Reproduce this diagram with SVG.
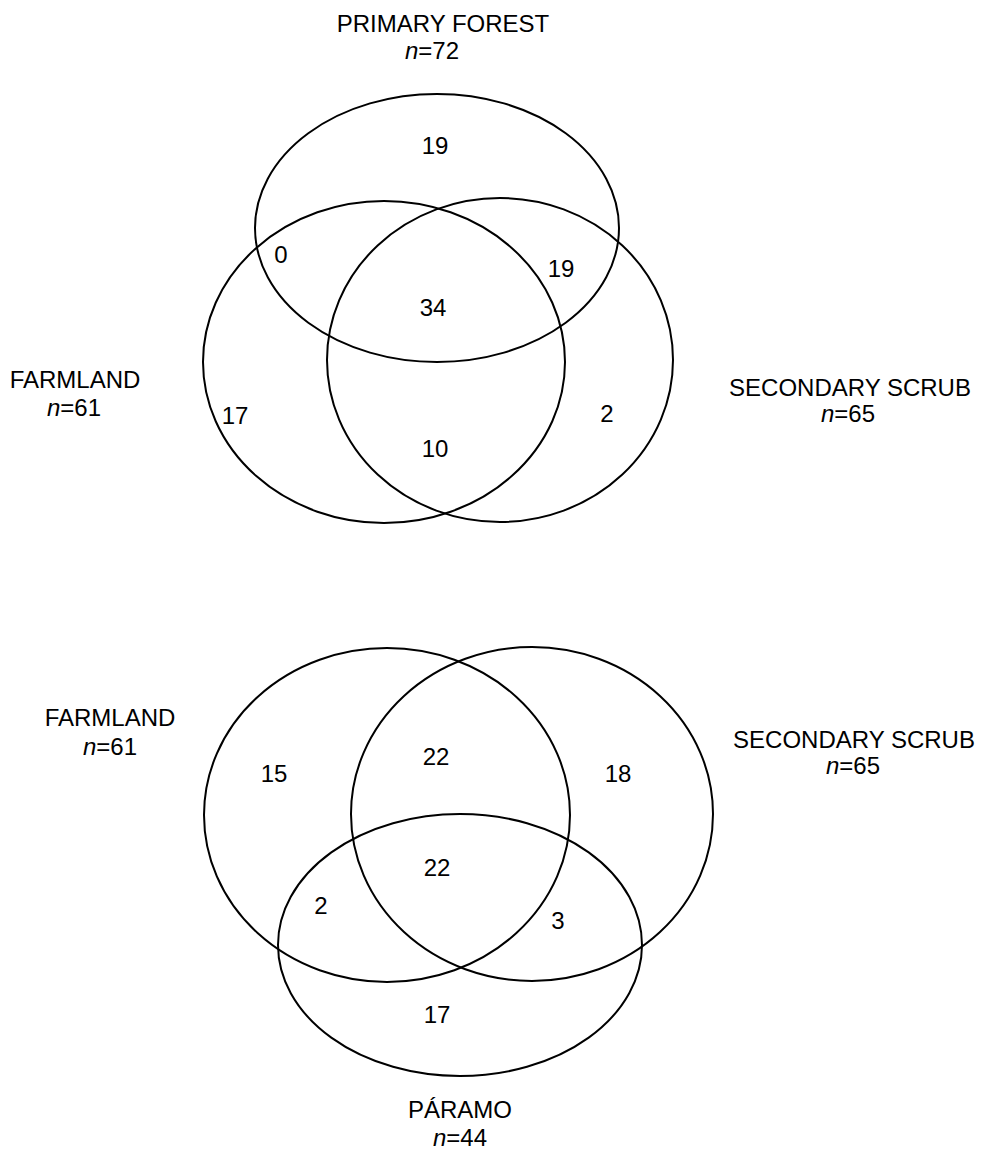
<svg xmlns="http://www.w3.org/2000/svg" width="986" height="1152" viewBox="0 0 986 1152">
<style>
.set{fill:none;stroke:#000;stroke-width:2}
text{font-family:"Liberation Sans",Arial,sans-serif;font-size:24px;fill:#000;text-anchor:middle}
.i{font-style:italic}
</style>
<rect width="986" height="1152" fill="#fff"/>
<g id="top-venn">
<g id="pf-top"><ellipse class="set" cx="437" cy="228" rx="182" ry="134"/></g>
<g id="farm-top"><ellipse class="set" cx="384" cy="362" rx="181" ry="161"/></g>
<g id="scrub-top"><ellipse class="set" cx="500" cy="360" rx="173" ry="162"/></g>
<g id="top-labels">
<text x="443" y="32">PRIMARY FOREST</text>
<text x="432" y="59"><tspan class="i">n</tspan>=72</text>
<text x="75" y="388">FARMLAND</text>
<text x="74" y="416"><tspan class="i">n</tspan>=61</text>
<text x="850" y="396">SECONDARY SCRUB</text>
<text x="848" y="422"><tspan class="i">n</tspan>=65</text>
</g>
<g id="top-counts">
<text x="435" y="154">19</text>
<text x="281" y="263">0</text>
<text x="561" y="277">19</text>
<text x="433" y="316">34</text>
<text x="235" y="424">17</text>
<text x="607" y="422">2</text>
<text x="435" y="457">10</text>
</g>
</g>
<g id="bottom-venn">
<g id="farm-bot"><ellipse class="set" cx="387" cy="815" rx="183" ry="167"/></g>
<g id="scrub-bot"><ellipse class="set" cx="532" cy="814" rx="181" ry="167"/></g>
<g id="paramo-bot"><ellipse class="set" cx="460" cy="945" rx="182" ry="131"/></g>
<g id="bottom-labels">
<text x="110" y="726">FARMLAND</text>
<text x="110" y="755"><tspan class="i">n</tspan>=61</text>
<text x="854" y="748">SECONDARY SCRUB</text>
<text x="853" y="774"><tspan class="i">n</tspan>=65</text>
<text x="460" y="1118">PÁRAMO</text>
<text x="460" y="1146"><tspan class="i">n</tspan>=44</text>
</g>
<g id="bottom-counts">
<text x="274" y="782">15</text>
<text x="436" y="765">22</text>
<text x="618" y="782">18</text>
<text x="437" y="876">22</text>
<text x="321" y="914">2</text>
<text x="558" y="929">3</text>
<text x="437" y="1023">17</text>
</g>
</g>
</svg>
